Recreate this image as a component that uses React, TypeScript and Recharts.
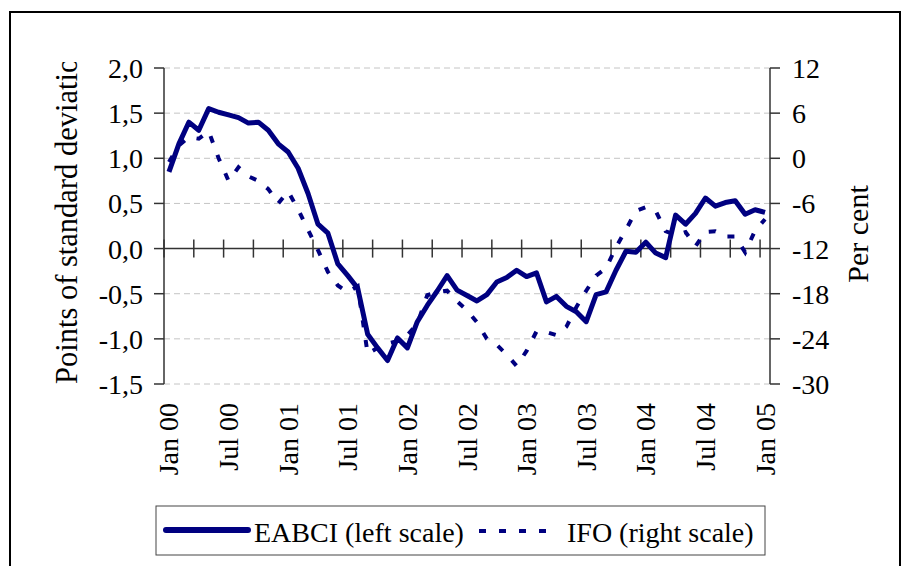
import React from 'react';
import {
  LineChart,
  Line,
  XAxis,
  YAxis,
  CartesianGrid,
  ReferenceLine,
} from 'recharts';

// Monthly categories, Jan 2000 to Jan 2005
const monthNames = ['Jan', 'Feb', 'Mar', 'Apr', 'May', 'Jun', 'Jul', 'Aug', 'Sep', 'Oct', 'Nov', 'Dec'];
const years = ['00', '01', '02', '03', '04'];
const months: string[] = [...years.flatMap((y) => monthNames.map((m) => `${m} ${y}`)), 'Jan 05'];

const tickLabels = ['Jan 00', 'Jul 00', 'Jan 01', 'Jul 01', 'Jan 02', 'Jul 02', 'Jan 03', 'Jul 03', 'Jan 04', 'Jul 04', 'Jan 05'];
const leftTicks = [-1.5, -1.0, -0.5, 0, 0.5, 1.0, 1.5, 2.0];
const rightTicks = [-30, -24, -18, -12, -6, 0, 6, 12];

// EABCI, points of standard deviation (left scale)
const eabci = [
  0.85, 1.16, 1.40, 1.31, 1.55, 1.51, 1.48, 1.45, 1.39, 1.40, 1.31, 1.16,
  1.07, 0.89, 0.61, 0.27, 0.17, -0.17, -0.30, -0.44, -0.95, -1.10, -1.24, -0.99,
  -1.10, -0.81, -0.63, -0.47, -0.30, -0.46, -0.52, -0.58, -0.51, -0.37, -0.32, -0.24,
  -0.31, -0.27, -0.59, -0.53, -0.64, -0.70, -0.81, -0.51, -0.48, -0.24, -0.03, -0.04,
  0.07, -0.05, -0.10, 0.37, 0.27, 0.39, 0.56, 0.47, 0.51, 0.53, 0.38, 0.43,
  0.40,
];

// IFO, per cent (right scale)
const ifo = [
  -0.5, 1.7, 2.8, 2.6, 3.6, 0.0, -3.0, -1.2, -2.4, -3.0, -4.1, -6.0,
  -4.4, -6.8, -9.5, -12.2, -15.1, -16.9, -17.8, -17.0, -26.0, -25.2, -24.6, -24.3,
  -23.5, -22.0, -18.2, -17.8, -17.6, -19.0, -20.2, -21.8, -24.0, -24.8, -26.1, -27.6,
  -25.6, -23.0, -23.1, -23.5, -22.4, -19.8, -17.6, -15.6, -14.6, -11.8, -9.5, -7.0,
  -6.5, -7.0, -9.7, -10.2, -9.8, -11.7, -9.8, -9.7, -10.4, -10.4, -12.5, -9.6,
  -8.1,
];

const data = months.map((m, i) => ({ i, month: m, eabci: eabci[i], ifo: ifo[i] }));
const xTicks = tickLabels.map((l) => months.indexOf(l));
// tick marks on the zero line every quarter, between categories
const quarterMarks = months.map((_, i) => i - 0.5).filter((_, i) => i % 3 === 0);

const FONT = '"Liberation Serif", "Times New Roman", serif';
const NAVY = '#000080';
const AXIS = '#333';

const fmtLeft = (v: number) => v.toFixed(1).replace('.', ',');

const MonthTick = ({ x, y, payload }: any) => (
  <text
    x={x}
    y={y}
    transform={`rotate(-90 ${x} ${y})`}
    textAnchor="end"
    dominantBaseline="central"
    fontFamily={FONT}
    fontSize={28}
    fill="#000"
  >
    {months[payload.value]}
  </text>
);

export default function App() {
  return (
    <div style={{ position: 'fixed', left: 0, top: 0, width: 905, height: 566, overflow: 'hidden', background: '#fff' }}>
      <div
        style={{
          position: 'absolute',
          left: 9,
          top: 11,
          width: 892,
          height: 600,
          border: '2px solid #000',
          boxSizing: 'border-box',
        }}
      />
      <div style={{ position: 'absolute', left: 0, top: 0 }}>
        <LineChart width={905} height={566} data={data} margin={{ top: 68, right: 0, left: 0, bottom: 82 }}>
          <CartesianGrid yAxisId="left" vertical={false} stroke="#c4c4c4" strokeDasharray="6 4" />
          <XAxis
            dataKey="i"
            type="number"
            domain={[-0.5, 60.5]}
            ticks={xTicks}
            interval={0}
            axisLine={false}
            tickLine={false}
            tickSize={0}
            tickMargin={19}
            height={100}
            tick={<MonthTick />}
          />
          <YAxis
            yAxisId="left"
            domain={[-1.5, 2]}
            ticks={leftTicks}
            interval={0}
            width={164}
            tickFormatter={fmtLeft}
            tickSize={10}
            tickMargin={11}
            axisLine={{ stroke: AXIS, strokeWidth: 1.5 }}
            tickLine={{ stroke: AXIS, strokeWidth: 1.5 }}
            tick={{ fontFamily: FONT, fontSize: 28, fill: '#000' }}
          />
          <YAxis
            yAxisId="right"
            orientation="right"
            domain={[-30, 12]}
            ticks={rightTicks}
            interval={0}
            width={135}
            tickSize={10}
            tickMargin={12}
            axisLine={{ stroke: AXIS, strokeWidth: 1.5 }}
            tickLine={{ stroke: AXIS, strokeWidth: 1.5 }}
            tick={{ fontFamily: FONT, fontSize: 28, fill: '#000' }}
          />
          <ReferenceLine yAxisId="left" y={0} stroke={AXIS} strokeWidth={1.5} />
          {quarterMarks.map((q) => (
            <ReferenceLine
              key={q}
              yAxisId="left"
              segment={[{ x: q, y: -0.1 }, { x: q, y: 0.1 }]}
              stroke={AXIS}
              strokeWidth={1.5}
            />
          ))}
          <Line
            yAxisId="right"
            type="linear"
            dataKey="ifo"
            stroke={NAVY}
            strokeWidth={4}
            strokeDasharray="7 13"
            dot={false}
            isAnimationActive={false}
          />
          <Line
            yAxisId="left"
            type="linear"
            dataKey="eabci"
            stroke={NAVY}
            strokeWidth={5}
            strokeLinejoin="round"
            dot={false}
            isAnimationActive={false}
          />
        </LineChart>
      </div>
      <svg width={905} height={566} style={{ position: 'absolute', left: 0, top: 0, pointerEvents: 'none' }}>
        <defs>
          <clipPath id="ytitle-clip">
            <rect x={0} y={62} width={150} height={400} />
          </clipPath>
        </defs>
        <g clipPath="url(#ytitle-clip)">
          <text x={77} y={384} transform="rotate(-90 77 384)" fontFamily={FONT} fontSize={30.5} fill="#000">
            Points of standard deviation
          </text>
        </g>
        <text x={868} y={234} transform="rotate(-90 868 234)" textAnchor="middle" fontFamily={FONT} fontSize={30} fill="#000">
          Per cent
        </text>
        {/* legend */}
        <rect x={156} y={506} width={609} height={49} fill="#fff" stroke="#444" strokeWidth={1} />
        <line x1={166} y1={530} x2={248} y2={530} stroke={NAVY} strokeWidth={6} strokeLinecap="round" />
        <text x={254} y={542} fontFamily={FONT} fontSize={28} fill="#000">
          EABCI (left scale)
        </text>
        <line x1={479} y1={531} x2={556} y2={531} stroke={NAVY} strokeWidth={4} strokeDasharray="7 13" />
        <text x={567} y={542} fontFamily={FONT} fontSize={28} fill="#000">
          IFO (right scale)
        </text>
      </svg>
    </div>
  );
}
